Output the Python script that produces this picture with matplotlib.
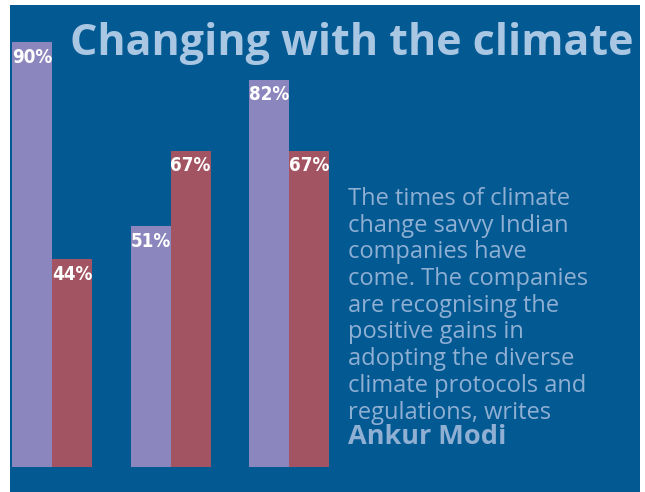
import matplotlib
matplotlib.use("Agg")
import matplotlib.pyplot as plt
from matplotlib.patches import Rectangle
import numpy as np

# data
groups = ["A", "B", "C"]
series_purple = [90, 51, 82]
series_red = [44, 67, 67]
title = "Changing with the climate"
body_lines = [
    "The times of climate",
    "change savvy Indian",
    "companies have",
    "come. The companies",
    "are recognising the",
    "positive gains in",
    "adopting the diverse",
    "climate protocols and",
    "regulations, writes",
]
author = "Ankur Modi"

BG = "#035a93"
PURPLE = "#8b86bd"
RED = "#a35462"
TITLE_C = "#a9c7e3"
BODY_C = "#8fafd3"

W, H = 645, 492
fig = plt.figure(figsize=(W / 100, H / 100), dpi=100)
fig.patch.set_facecolor("white")

def fx(px):
    return px / W

def fy(py):
    return 1 - py / H

# blue panel
fig.patches.append(Rectangle((fx(10), 0), fx(630), fy(5), transform=fig.transFigure,
                             facecolor=BG, edgecolor="none", zorder=-5))

ax = fig.add_axes([fx(12), fy(467), fx(317), (467 - 42) / H])
ax.set_zorder(2)
ax.set_facecolor("none")
x = np.arange(len(groups))
w = 40 / 118.5
b1 = ax.bar(x - w / 2, series_purple, width=w, color=PURPLE)
b2 = ax.bar(x + w / 2, series_red, width=w, color=RED)
for bars, vals in ((b1, series_purple), (b2, series_red)):
    for bar, v in zip(bars, vals):
        ax.annotate(f"{v}%", (bar.get_x() + bar.get_width() / 2, v),
                    xytext=(0, -4), textcoords="offset points", ha="center", va="top",
                    color="white", fontsize=13.5, fontweight="bold",
                    fontstretch="condensed", family="DejaVu Sans")
ax.set_xlim(-w, 2 + w)
ax.set_ylim(0, 90)
ax.axis("off")

fig.text(fx(70), fy(55), title, ha="left", va="baseline", color=TITLE_C,
         fontsize=31, fontweight="bold", family="Open Sans")

for i, line in enumerate(body_lines):
    fig.text(fx(348), fy(205 + i * 26.7), line, ha="left", va="baseline",
             color=BODY_C, fontsize=17, family="Open Sans")
fig.text(fx(348), fy(444), author, ha="left", va="baseline", color=BODY_C,
         fontsize=19.5, fontweight="bold", family="Open Sans")

fig.savefig("out.png", dpi=100)
